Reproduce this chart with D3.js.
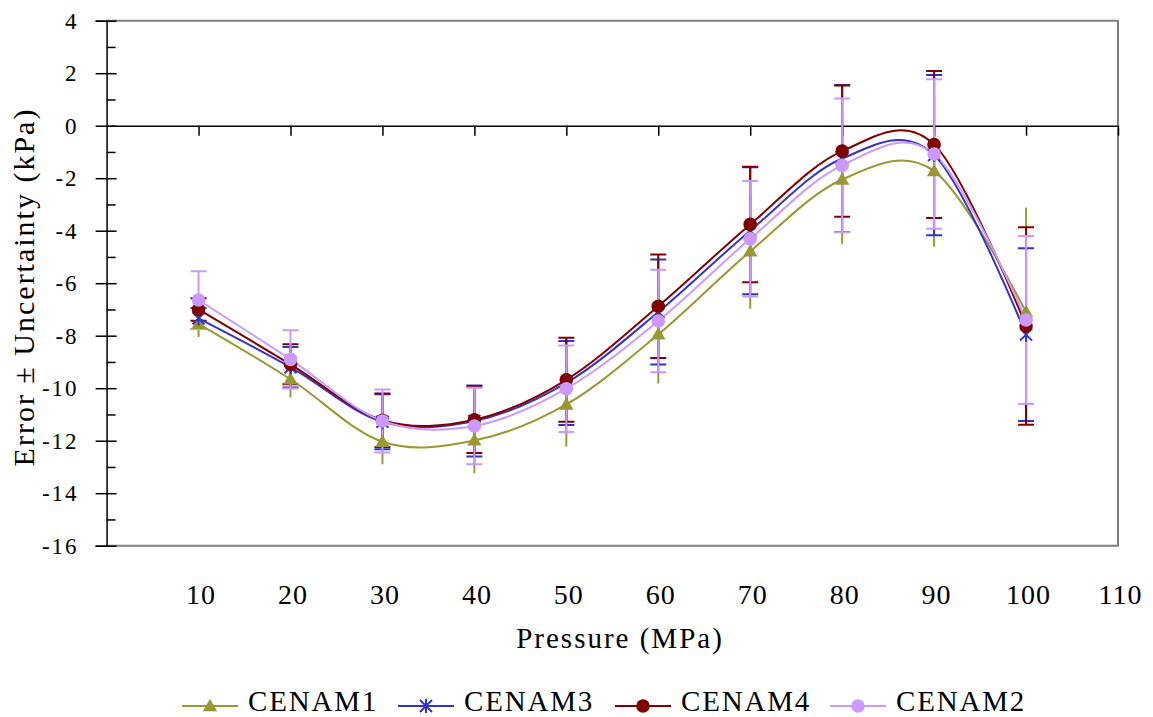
<!DOCTYPE html>
<html>
<head>
<meta charset="utf-8">
<script src="https://cdn.jsdelivr.net/npm/d3@7"></script>
<style>
  body { margin: 0; background: #fff; }
  svg text { font-family: 'Liberation Serif', 'Times New Roman', 'DejaVu Serif', serif; fill: #000; }
</style>
</head>
<body>
<div class="chart"></div>
<script>
var width = 1153
var height = 717

// pressure points (MPa)
var pressure = [10, 20, 30, 40, 50, 60, 70, 80, 90, 100]

// error (kPa) and uncertainty (kPa) for each series
var cenam1 = [-7.55, -9.66, -12.04, -11.99, -10.62, -7.95, -4.79, -2.05, -1.73, -7.1]
var cenam1Unc = [0.5, 0.69, 0.86, 1.25, 1.6, 1.87, 2.18, 2.45, 2.88, 3.98]
var cenam3 = [-7.34, -9.2, -11.28, -11.25, -9.8, -7.1, -4.0, -1.25, -1.12, -7.96]
var cenam3Unc = [0.4, 0.77, 1.05, 1.35, 1.6, 2.0, 2.42, 2.8, 3.05, 3.29]
var cenam4 = [-7.0, -9.09, -11.22, -11.2, -9.68, -6.88, -3.76, -0.97, -0.72, -7.63]
var cenam4Unc = [0.43, 0.76, 1.02, 1.27, 1.6, 1.97, 2.2, 2.5, 2.8, 3.76]
var cenam2 = [-6.64, -8.9, -11.25, -11.44, -10.02, -7.44, -4.31, -1.51, -1.08, -7.4]
var cenam2Unc = [1.1, 1.11, 1.2, 1.46, 1.65, 1.95, 2.2, 2.55, 2.85, 3.2]

var xTicks = [10, 20, 30, 40, 50, 60, 70, 80, 90, 100, 110]
var yTicks = [4, 2, 0, -2, -4, -6, -8, -10, -12, -14, -16]
var yMinor = [3, 1, -1, -3, -5, -7, -9, -11, -13, -15]

var series = [
  {name: "CENAM1", values: cenam1, unc: cenam1Unc, color: "#999933", marker: "triangle", caps: false},
  {name: "CENAM3", values: cenam3, unc: cenam3Unc, color: "#3333cc", marker: "star", caps: true},
  {name: "CENAM4", values: cenam4, unc: cenam4Unc, color: "#800000", marker: "circle", caps: true},
  {name: "CENAM2", values: cenam2, unc: cenam2Unc, color: "#cc99ff", marker: "circle", caps: true}
]

var serif = "'Liberation Serif', 'Times New Roman', 'DejaVu Serif', serif"
var plot = {left: 106.6, right: 1118, top: 20.7, bottom: 545.7}

var x = d3.scaleLinear().domain([0, 110]).range([plot.left, plot.right])
var y = d3.scaleLinear().domain([-16, 4]).range([plot.bottom, plot.top])

var svg = d3.select(".chart").append("svg")
    .attr("width", width)
    .attr("height", height)
    .style("font-family", serif)

// plot frame (top/right/bottom gray)
svg.append("path")
    .attr("d", "M" + plot.left + "," + plot.top + "H" + plot.right + "V" + plot.bottom + "H" + plot.left)
    .attr("fill", "none")
    .attr("stroke", "#808080")
    .attr("stroke-width", 2)

// y axis
var yAxis = svg.append("g")
    .attr("transform", "translate(" + plot.left + ",0)")
    .call(d3.axisLeft(y).tickValues(yTicks).tickSize(11).tickPadding(17).tickFormat(function(d){ return String(d) }))
yAxis.attr("font-family", null)
yAxis.select(".domain").attr("stroke", "#000").attr("stroke-width", 1.5)
yAxis.selectAll(".tick line").attr("x1", 10).attr("stroke-width", 1.5)
yAxis.selectAll(".tick text")
    .attr("font-size", 23)
    .attr("letter-spacing", 2)
    .style("font-family", serif)

var yMinorAxis = svg.append("g")
    .attr("transform", "translate(" + plot.left + ",0)")
    .call(d3.axisLeft(y).tickValues(yMinor).tickSize(-9).tickFormat(""))
yMinorAxis.select(".domain").remove()
yMinorAxis.selectAll(".tick line").attr("stroke-width", 1.5)

// x axis drawn along zero line, labels dropped below plot
var xAxis = svg.append("g")
    .attr("transform", "translate(0," + y(0) + ")")
    .call(d3.axisBottom(x).tickValues(xTicks).tickSize(10).tickSizeOuter(0))
xAxis.attr("font-family", null)
xAxis.select(".domain").attr("stroke", "#000").attr("stroke-width", 1.5)
xAxis.selectAll(".tick line").attr("stroke-width", 1.5)
xAxis.selectAll(".tick text")
    .attr("font-size", 28)
    .style("font-family", serif)
    .attr("letter-spacing", 1)
    .attr("dy", null)
    .attr("x", 2)
    .attr("y", 604 - y(0))

// axis titles
svg.append("text")
    .attr("x", 620)
    .attr("y", 648)
    .attr("text-anchor", "middle")
    .attr("font-size", 29)
    .attr("letter-spacing", 2)
    .style("font-family", serif)
    .text("Pressure (MPa)")

svg.append("text")
    .attr("transform", "translate(34,287) rotate(-90)")
    .attr("text-anchor", "middle")
    .attr("font-size", 30)
    .attr("letter-spacing", 2)
    .style("font-family", serif)
    .text("Error ± Uncertainty (kPa)")

// error bars (CENAM1 has no end caps)
var capW = 8
series.forEach(function(s){
  var g = svg.append("g").attr("stroke", s.color).attr("stroke-width", 2).attr("fill", "none")
  g.selectAll("path")
      .data(s.values)
    .enter().append("path")
      .attr("d", function(d, i){
        var px = x(pressure[i])
        var top = y(d + s.unc[i]), bot = y(d - s.unc[i])
        var p = "M" + px + "," + top + "V" + bot
        if(s.caps){
          p += "M" + (px - capW) + "," + top + "H" + (px + capW) +
            "M" + (px - capW) + "," + bot + "H" + (px + capW)
        }
        return p
      })
})

// smoothed lines
var line = d3.line()
    .x(function(d, i){ return x(pressure[i]) })
    .y(function(d){ return y(d) })
    .curve(d3.curveCatmullRom.alpha(0))

series.forEach(function(s){
  svg.append("path")
      .datum(s.values)
      .attr("d", line)
      .attr("fill", "none")
      .attr("stroke", s.color)
      .attr("stroke-width", 2)
})

function drawMarker(g, type, color, cx, cy){
  if(type == "circle"){
    g.append("circle").attr("cx", cx).attr("cy", cy).attr("r", 6.8).attr("fill", color)
  }else if(type == "triangle"){
    g.append("path")
      .attr("transform", "translate(" + cx + "," + (cy + 1) + ")")
      .attr("d", d3.symbol().type(d3.symbolTriangle).size(90)())
      .attr("fill", color)
  }else if(type == "star"){
    var r = 6
    g.append("path")
      .attr("d", "M" + (cx - r) + "," + (cy - r) + "L" + (cx + r) + "," + (cy + r) +
        "M" + (cx - r) + "," + (cy + r) + "L" + (cx + r) + "," + (cy - r) +
        "M" + cx + "," + (cy - r - 1) + "V" + (cy + r + 1))
      .attr("stroke", color)
      .attr("stroke-width", 2)
      .attr("fill", "none")
  }
}

series.forEach(function(s){
  var g = svg.append("g")
  s.values.forEach(function(d, i){
    drawMarker(g, s.marker, s.color, x(pressure[i]), y(d))
  })
})

// legend
var legendX = [182, 398, 615, 830]
var legend = svg.append("g")
series.forEach(function(s, i){
  var lx = legendX[i]
  legend.append("line")
      .attr("x1", lx).attr("x2", lx + 56)
      .attr("y1", 706).attr("y2", 706)
      .attr("stroke", s.color)
      .attr("stroke-width", 2)
  drawMarker(legend, s.marker, s.color, lx + 28, 706)
  legend.append("text")
      .attr("x", lx + 66)
      .attr("y", 711)
      .attr("font-size", 29)
      .attr("letter-spacing", 1.8)
      .style("font-family", serif)
      .text(s.name)
})
</script>
</body>
</html>
